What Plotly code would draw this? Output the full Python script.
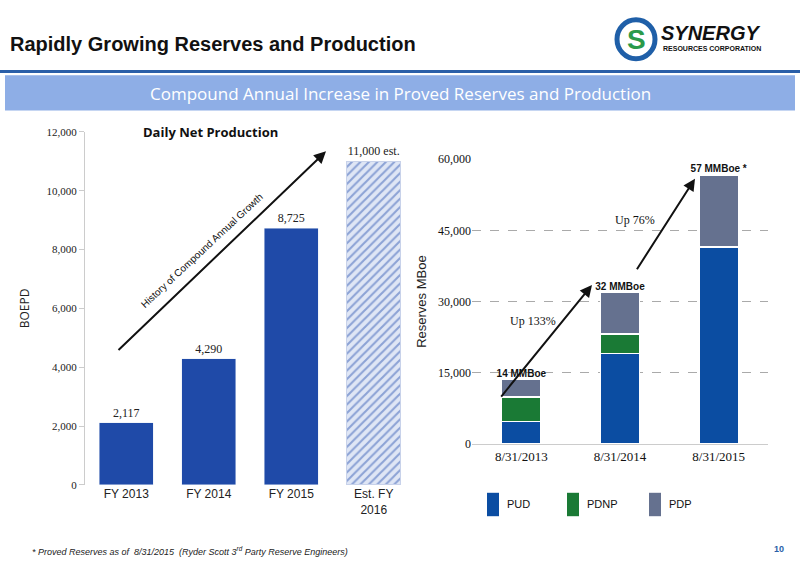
import plotly.graph_objects as go

prod_cats = ["FY 2013", "FY 2014", "FY 2015", "Est. FY<br>2016"]
prod_vals = [2117, 4290, 8725, 11000]
prod_labels = ["2,117", "4,290", "8,725", "11,000 est."]

res_cats = ["8/31/2013", "8/31/2014", "8/31/2015"]
pud = [4700, 19100, 41500]
pdnp = [5200, 4100, 0]
pdp = [3700, 8800, 15200]
res_labels = ["14 MMBoe", "32 MMBoe", "57 MMBoe *"]

W, H = 800, 571
def px(x): return x / W
def py(y): return 1 - y / H

BLUE = "#1f4aa8"
fig = go.Figure()
fig.add_trace(go.Bar(x=prod_cats[:3], y=prod_vals[:3], marker_color=BLUE, width=0.65,
                     text=prod_labels[:3], textposition="outside", cliponaxis=False,
                     textfont=dict(family="Liberation Serif", size=12, color="#222"),
                     xaxis="x", yaxis="y", showlegend=False))
fig.add_trace(go.Bar(x=prod_cats[3:], y=prod_vals[3:], width=0.65,
                     marker=dict(color="white", line=dict(color="#c8d2ea", width=1),
                                 pattern=dict(shape="/", fgcolor="#3a5fb5", bgcolor="#dfe6f5", size=6, solidity=0.35)),
                     text=prod_labels[3:], textposition="outside", cliponaxis=False,
                     textfont=dict(family="Liberation Serif", size=12, color="#222"),
                     xaxis="x", yaxis="y", showlegend=False))

for vals, col in [(pud, "#0b4da2"), (pdnp, "#1a7a35"), (pdp, "#65718f")]:
    fig.add_trace(go.Bar(x=res_cats, y=vals, marker=dict(color=col, line=dict(color="white", width=1.5)),
                         width=0.4, xaxis="x2", yaxis="y2", showlegend=False))
tot = [a + b + c for a, b, c in zip(pud, pdnp, pdp)]
fig.add_trace(go.Scatter(x=res_cats, y=tot, mode="text", text=["<b>%s</b>" % t for t in res_labels],
                         textposition="top center",
                         textfont=dict(family="Liberation Sans", size=10, color="#111"),
                         xaxis="x2", yaxis="y2", showlegend=False, cliponaxis=False))

fig.update_layout(
    width=W, height=H, margin=dict(l=0, r=0, t=0, b=0), plot_bgcolor="white", paper_bgcolor="white",
    barmode="stack", bargap=0.3,
    xaxis=dict(domain=[px(85), px(415)], tickfont=dict(family="Liberation Sans", size=12, color="#222"),
               showline=False, ticks=""),
    yaxis=dict(domain=[py(490), py(128)], range=[0, 12000], dtick=2000, tickformat=",",
               tickfont=dict(family="Liberation Serif", size=11, color="#222"),
               showgrid=False, showline=True, linecolor="#ccc", ticks="outside", tickcolor="#ccc",
               title=dict(text="BOEPD", font=dict(family="Open Sans", size=12, color="#222"), standoff=14)),
    xaxis2=dict(domain=[px(472), px(768)], anchor="y2",
                tickfont=dict(family="Liberation Serif", size=13, color="#111"),
                showline=True, linecolor="#ccc", ticks=""),
    yaxis2=dict(domain=[py(448), py(156)], range=[0, 60000], dtick=15000, tickformat=",", anchor="x2",
                tickfont=dict(family="Liberation Serif", size=12, color="#111"),
                showgrid=True, gridcolor="#aaa", griddash="dash", zeroline=False,
                title=dict(text="Reserves MBoe", font=dict(family="Liberation Sans", size=13, color="#222"), standoff=8)),
)

shapes = [
    dict(type="line", xref="paper", yref="paper", x0=0, x1=1, y0=py(66), y1=py(66), line=dict(color="#2a5fa8", width=3)),
    dict(type="rect", xref="paper", yref="paper", x0=px(5), x1=px(795), y0=py(106), y1=py(70),
         fillcolor="#8eaee6", line=dict(width=0)),
    dict(type="circle", xref="paper", yref="paper", x0=px(617), x1=px(655), y0=py(53), y1=py(13),
         fillcolor="white", line=dict(color="#1f5fa8", width=5)),
]
for x, col in [(487, "#0b4da2"), (567, "#1a7a35"), (649, "#65718f")]:
    shapes.append(dict(type="rect", xref="paper", yref="paper", x0=px(x), x1=px(x + 12), y0=py(522), y1=py(498),
                       fillcolor=col, line=dict(width=0)))
fig.update_layout(shapes=shapes)

ann = [
    dict(x=px(8), y=py(38), text="<b>Rapidly Growing Reserves and Production</b>", xanchor="left",
         font=dict(family="Liberation Sans", size=20, color="#111")),
    dict(x=px(400), y=py(89), text="Compound Annual Increase in Proved Reserves and Production",
         font=dict(family="Open Sans", size=17, color="white")),
    dict(x=px(659), y=py(27), text="<b><i>SYNERGY</i></b>", xanchor="left",
         font=dict(family="Liberation Sans", size=20, color="#111")),
    dict(x=px(661), y=py(43), text="<b>RESOURCES CORPORATION</b>", xanchor="left",
         font=dict(family="Liberation Sans", size=7, color="#111")),
    dict(x=px(636), y=py(33), text="<b>S</b>", font=dict(family="Liberation Sans", size=28, color="#2a9a4a")),
    dict(x=px(210), y=py(128), text="<b>Daily Net Production</b>",
         font=dict(family="Open Sans", size=13, color="#111")),
    dict(x=px(202), y=py(250), text="History of Compound Annual Growth", textangle=-43,
         font=dict(family="Liberation Sans", size=10, color="#111")),
    dict(x=px(533), y=py(322), text="Up 133%", font=dict(family="Liberation Serif", size=12, color="#111")),
    dict(x=px(635), y=py(218), text="Up 76%", font=dict(family="Liberation Serif", size=12, color="#111")),
    dict(x=px(30), y=py(558), text="<i>* Proved Reserves as of  8/31/2015  (Ryder Scott 3<sup>rd</sup> Party Reserve Engineers)</i>",
         xanchor="left", font=dict(family="Liberation Sans", size=9, color="#222")),
    dict(x=px(779), y=py(556), text="<b>10</b>", font=dict(family="Liberation Sans", size=9, color="#2a5fa8")),
]
for x, t in [(505, "PUD"), (585, "PDNP"), (667, "PDP")]:
    ann.append(dict(x=px(x), y=py(510), text=t, xanchor="left", font=dict(family="Liberation Sans", size=11, color="#111")))
for a in ann:
    a.setdefault("yanchor", "middle")
    a.setdefault("xanchor", "center")
for (x0, y0, x1, y1) in [(117, 348, 326, 148), (500, 398, 592, 285), (636, 268, 695, 176)]:
    ann.append(dict(x=px(x1), y=py(y1), ax=x0 - x1, ay=y0 - y1, text="",
                    showarrow=True, arrowhead=2, arrowsize=1.2, arrowwidth=2, arrowcolor="#111"))
for a in ann:
    a.setdefault("xref", "paper"); a.setdefault("yref", "paper"); a.setdefault("showarrow", False)
fig.update_layout(annotations=ann)

html = fig.to_html(include_plotlyjs=True, full_html=True, config={"displayModeBar": False})
html = html.replace("<body>", '<body style="margin:0;padding:0;overflow:hidden">', 1)
with open("out.html", "w", encoding="utf-8") as f:
    f.write(html)
